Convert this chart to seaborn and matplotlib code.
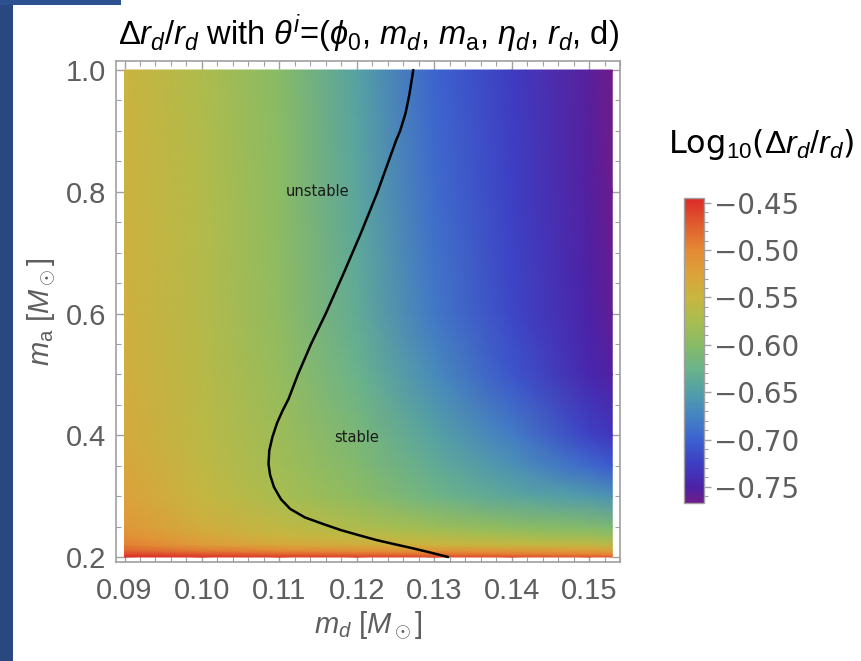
import numpy as np
import pandas as pd
import seaborn as sns
import matplotlib
matplotlib.use("Agg")
import matplotlib.pyplot as plt
from matplotlib.colors import LinearSegmentedColormap, Normalize
from matplotlib.patches import Rectangle
from matplotlib.ticker import MultipleLocator

# ---------------- data ----------------
md_grid = [0.09, 0.10, 0.11, 0.12, 0.13, 0.14, 0.15, 0.153]
ma_grid = [0.20, 0.205, 0.21, 0.22, 0.235, 0.25, 0.30, 0.35, 0.40, 0.50, 0.60, 0.80, 1.00]
# log10(dr/r) values, one row per ma_grid entry, columns follow md_grid
z_rows = [
    [-0.447, -0.452, -0.456, -0.460, -0.463, -0.466, -0.470, -0.475],  # 0.20
    [-0.462, -0.470, -0.477, -0.482, -0.487, -0.492, -0.497, -0.500],  # 0.205
    [-0.477, -0.490, -0.498, -0.503, -0.508, -0.512, -0.516, -0.520],  # 0.21
    [-0.495, -0.518, -0.533, -0.540, -0.548, -0.552, -0.556, -0.560],  # 0.22
    [-0.507, -0.530, -0.549, -0.558, -0.568, -0.578, -0.585, -0.590],  # 0.235
    [-0.515, -0.540, -0.558, -0.570, -0.585, -0.598, -0.605, -0.610],  # 0.25
    [-0.525, -0.553, -0.575, -0.595, -0.622, -0.640, -0.655, -0.662],  # 0.30
    [-0.530, -0.557, -0.580, -0.605, -0.634, -0.662, -0.695, -0.705],  # 0.35
    [-0.535, -0.560, -0.584, -0.612, -0.645, -0.680, -0.722, -0.733],  # 0.40
    [-0.540, -0.563, -0.590, -0.625, -0.668, -0.708, -0.745, -0.752],  # 0.50
    [-0.543, -0.565, -0.594, -0.634, -0.683, -0.718, -0.750, -0.760],  # 0.60
    [-0.545, -0.567, -0.597, -0.640, -0.692, -0.724, -0.754, -0.765],  # 0.80
    [-0.547, -0.570, -0.600, -0.645, -0.698, -0.728, -0.756, -0.767],  # 1.00
]

# stability boundary
curve_md = [0.1273, 0.1268, 0.1263, 0.1256, 0.1251, 0.1226, 0.1205, 0.1183, 0.1160,
            0.1141, 0.1124, 0.1118, 0.1112, 0.1104, 0.1097, 0.1091, 0.1087, 0.1086,
            0.1088, 0.1093, 0.1102, 0.1114, 0.1133, 0.1157, 0.1180, 0.1205, 0.1225,
            0.1247, 0.1270, 0.1293, 0.1318]
curve_ma = [1.000, 0.960, 0.929, 0.900, 0.885, 0.797, 0.731, 0.666, 0.600,
            0.550, 0.500, 0.480, 0.460, 0.440, 0.420, 0.397, 0.375, 0.353,
            0.335, 0.315, 0.295, 0.279, 0.265, 0.254, 0.244, 0.235, 0.228,
            0.2215, 0.215, 0.208, 0.200]

cbar_ticks = [-0.45, -0.50, -0.55, -0.60, -0.65, -0.70, -0.75]
x_ticks = [0.09, 0.10, 0.11, 0.12, 0.13, 0.14, 0.15]
y_ticks = [0.2, 0.4, 0.6, 0.8, 1.0]

# colormap samples (value, colour)
cmap_values = [-0.767, -0.75, -0.725, -0.70, -0.675, -0.65, -0.625, -0.60,
               -0.575, -0.55, -0.525, -0.50, -0.475, -0.445]
cmap_colors = ["#6e1c8a", "#4b22a8", "#3d3fc4", "#3c62d0", "#4584c2", "#529fa8",
               "#6bb38a", "#88bb66", "#a8bd50", "#c8b640", "#dca23a", "#e48a35",
               "#e0602f", "#dc2a28"]
vmin, vmax = -0.767, -0.445

# ---------------- styling ----------------
sns.set_theme(style="ticks")
plt.rcParams["font.family"] = ["Liberation Sans", "DejaVu Sans"]
plt.rcParams["mathtext.fontset"] = "custom"
plt.rcParams["mathtext.rm"] = "Liberation Sans"
plt.rcParams["mathtext.it"] = "Liberation Sans:italic"
plt.rcParams["mathtext.bf"] = "Liberation Sans:bold"

grey_txt = "#5e5e5e"
frame_col = "#a0a0a0"

norm = Normalize(vmin=vmin, vmax=vmax)
cmap = LinearSegmentedColormap.from_list(
    "mma_rainbow", [(norm(v), c) for v, c in zip(cmap_values, cmap_colors)])

fig = plt.figure(figsize=(8.61, 6.61), dpi=100)
fig.patch.set_facecolor("white")

# slide background pieces
fig.patches.append(Rectangle((0, 0), 13 / 861, 1, transform=fig.transFigure,
                             facecolor="#28487f", edgecolor="none", zorder=-5))
fig.patches.append(Rectangle((0, 1 - 5 / 661), 121 / 861, 5 / 661, transform=fig.transFigure,
                             facecolor="#2c5090", edgecolor="none", zorder=-5))

ax = fig.add_axes([116 / 861, 1 - 562 / 661, 504 / 861, 501 / 661])

X, Y = np.meshgrid(np.array(md_grid), np.array(ma_grid))
Z = np.array(z_rows)
ax.pcolormesh(X, Y, Z, shading="gouraud", cmap=cmap, norm=norm, rasterized=True)

df_curve = pd.DataFrame({"md": curve_md, "ma": curve_ma})
sns.lineplot(data=df_curve, x="md", y="ma", sort=False, estimator=None,
             color="black", linewidth=1.8, ax=ax)
for ln in ax.lines:
    ln.set_solid_joinstyle("round")
    ln.set_solid_capstyle("round")

ax.text(0.1149, 0.80, "unstable", fontsize=10.5, color="#1a1a1a",
        family=["DejaVu Sans"], ha="center", va="center")
ax.text(0.1200, 0.397, "stable", fontsize=10.5, color="#1a1a1a",
        family=["DejaVu Sans"], ha="center", va="center")

ax.set_xlim(0.0889, 0.1540)
ax.set_ylim(0.1918, 1.0148)
ax.set_xticks(x_ticks)
ax.set_xticklabels([f"{t:.2f}" for t in x_ticks])
ax.set_yticks(y_ticks)
ax.set_yticklabels([f"{t:.1f}" for t in y_ticks])
ax.xaxis.set_minor_locator(MultipleLocator(0.002))
ax.yaxis.set_minor_locator(MultipleLocator(0.05))
ax.tick_params(which="both", direction="in", top=True, right=True,
               color=frame_col, labelcolor=grey_txt)
ax.tick_params(which="major", length=6, width=1, labelsize=21)
ax.tick_params(axis="x", which="major", pad=11)
ax.tick_params(axis="y", which="major", pad=7)
ax.tick_params(which="minor", length=3.5, width=0.8)
for s in ax.spines.values():
    s.set_color(frame_col)
    s.set_linewidth(1.2)

ax.set_xlabel(r"$m_d\ [M_\odot]$", fontsize=21, color=grey_txt, labelpad=3)
ax.set_ylabel(r"$m_{\mathrm{a}}\ [M_\odot]$", fontsize=21, color=grey_txt, labelpad=6)

ax.set_title(r"$\Delta r_d/r_d$ with $\theta^i$=($\phi_0$, $m_d$, $m_{\mathrm{a}}$, $\eta_d$, $r_d$, d)",
             fontsize=23.5, color="black", pad=12)

# colour bar
cax = fig.add_axes([684 / 861, 1 - 503 / 661, 20 / 861, 305 / 661])
sm = plt.cm.ScalarMappable(norm=norm, cmap=cmap)
cb = fig.colorbar(sm, cax=cax, ticks=cbar_ticks)
cb.ax.set_yticklabels([f"\u2212{abs(t):.2f}" for t in cbar_ticks],
                      family=["DejaVu Sans"])
cb.ax.yaxis.set_minor_locator(MultipleLocator(0.01))
cb.ax.tick_params(which="major", length=5, width=1, color=frame_col,
                  labelcolor=grey_txt, labelsize=20, pad=2)
cb.ax.tick_params(which="minor", length=3, width=0.8, color=frame_col)
cb.outline.set_edgecolor(frame_col)
cb.outline.set_linewidth(1.0)

fig.text(761 / 861, 1 - 145 / 661, r"Log$_{10}$($\Delta r_d/r_d$)", fontsize=23,
         color="black", ha="center", va="center", family=["DejaVu Sans"])

fig.savefig("out.png", dpi=100)
